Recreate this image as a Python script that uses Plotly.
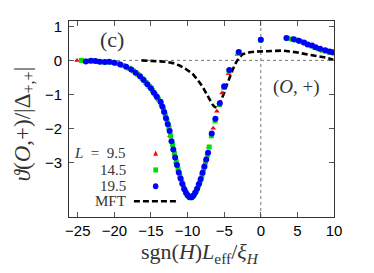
import plotly.graph_objects as go

# ---- data ----
x_L95 = [-25.1, -23.5, -21.9, -20.3, -18.8, -17.4, -16.2, -15.1, -14.1, -13.2, -12.4, -11.6,
         -10.8, -10.0, -9.2, -8.4, -7.7, -7.1, -6.5, -6.0, -5.3, -4.4, -3.2,
         3.6, 5.0, 6.5, 8.0, 9.6]
y_L95 = [0.0, -0.02, -0.04, -0.06, -0.15, -0.31, -0.53, -0.80, -1.12, -1.52, -2.22, -3.00,
         -3.62, -3.97, -3.98, -3.62, -3.12, -2.55, -2.00, -1.50, -0.96, -0.39, 0.18,
         0.64, 0.58, 0.45, 0.32, 0.22]

x_L145 = [-24.5, -23.7, -23.0, -22.3, -21.6, -21.0, -20.3, -19.6, -18.8, -18.0, -17.4, -16.8,
          -16.2, -15.7, -15.25, -14.8, -14.4, -14.0, -13.6, -13.3, -13.05, -12.8, -12.55,
          -12.3, -12.05, -11.8, -11.55, -11.3, -11.05, -10.8, -10.55, -10.3, -10.05, -9.8,
          -9.55, -9.3, -9.05, -8.8, -8.55, -8.3, -8.05, -7.8, -7.55, -7.3, -7.05, -6.75,
          -6.25, -5.65, -5.05, -4.35, -3.1, 0.0,
          3.6, 4.2, 4.8, 5.4, 5.9, 6.4, 6.9, 7.4, 7.9, 8.4, 8.9, 9.4, 10.0]
y_L145 = [0.0, -0.02, -0.01, -0.03, -0.05, -0.05, -0.06, -0.09, -0.15, -0.23, -0.31, -0.41,
          -0.53, -0.65, -0.76, -0.89, -1.01, -1.14, -1.28, -1.44, -1.61, -1.79, -1.98,
          -2.22, -2.48, -2.74, -2.98, -3.20, -3.41, -3.58, -3.74, -3.86, -3.96, -4.02,
          -4.04, -4.01, -3.93, -3.83, -3.70, -3.55, -3.38, -3.19, -2.99, -2.79, -2.55, -2.22,
          -1.78, -1.30, -0.80, -0.32, 0.21, 0.60,
          0.65, 0.63, 0.60, 0.56, 0.52, 0.47, 0.43, 0.38, 0.34, 0.30, 0.27, 0.24, 0.22]

x_L195 = [-23.9, -23.2, -22.6, -22.0, -21.3, -20.7, -20.0, -19.2, -18.4, -17.7, -17.1, -16.5,
          -16.0, -15.5, -15.0, -14.6, -14.2, -13.7, -13.45, -13.2, -12.95, -12.7, -12.45,
          -12.2, -11.95, -11.7, -11.45, -11.2, -10.95, -10.7, -10.45, -10.2, -9.95, -9.7,
          -9.45, -9.2, -8.95, -8.7, -8.45, -8.2, -7.95, -7.7, -7.45, -7.2,
          -6.7, -6.2, -5.6, -5.0, -4.3, -3.0, 0.0,
          3.5, 4.5, 5.2, 5.9, 6.4, 7.0, 7.5, 8.1, 8.8, 9.4, 9.8]
y_L195 = [-0.03, -0.01, -0.02, -0.04, -0.05, -0.04, -0.07, -0.12, -0.19, -0.27, -0.36, -0.47,
          -0.58, -0.70, -0.82, -0.95, -1.07, -1.22, -1.36, -1.52, -1.70, -1.88, -2.08,
          -2.38, -2.62, -2.86, -3.08, -3.30, -3.48, -3.64, -3.79, -3.90, -3.98, -4.03,
          -4.03, -3.98, -3.89, -3.78, -3.64, -3.49, -3.31, -3.12, -2.92, -2.72,
          -2.15, -1.72, -1.26, -0.76, -0.28, 0.25, 0.61,
          0.66, 0.62, 0.58, 0.53, 0.47, 0.44, 0.39, 0.34, 0.30, 0.26, 0.24]

x_mft = [-16.3, -15.0, -14.0, -13.0, -12.0, -11.1, -10.2, -9.3, -8.6, -7.9, -7.4, -7.0,
         -6.6, -6.3, -6.0, -5.7, -5.4, -5.0, -4.6, -4.2, -3.8, -3.35, -2.9, -2.5, -2.0,
         -1.5, -0.6, 0.0, 1.0, 2.0, 3.0, 4.0, 4.8, 5.5, 6.3, 7.1, 8.0, 8.9, 9.9]
y_mft = [0.0, -0.01, -0.02, -0.04, -0.08, -0.15, -0.26, -0.40, -0.58, -0.79, -0.99, -1.16,
         -1.30, -1.37, -1.39, -1.32, -1.18, -0.95, -0.70, -0.47, -0.25, -0.05, 0.10, 0.18, 0.22,
         0.24, 0.26, 0.26, 0.27, 0.28, 0.29, 0.27, 0.24, 0.21, 0.18, 0.15, 0.11, 0.08, 0.02]

x_ticks = [-25, -20, -15, -10, -5, 0, 5, 10]
y_ticks = [1, 0, -1, -2, -3]

legend_labels = ["<i>L</i>\u2002=\u20029.5", "14.5", "19.5", "MFT"]

RED, GREEN, BLUE = "#ff0000", "#00dd00", "#0000ff"
SERIF = "Liberation Serif"
SANS = "Liberation Sans"
TXT = "#333333"

fig = go.Figure()
fig.add_trace(go.Scatter(x=x_mft, y=y_mft, mode="lines",
                         line=dict(color="black", width=2.6, dash="6px,3px")))
fig.add_trace(go.Scatter(x=x_L95, y=y_L95, mode="markers",
                         marker=dict(symbol="triangle-up", size=5, color=RED)))
fig.add_trace(go.Scatter(x=x_L145, y=y_L145, mode="markers",
                         marker=dict(symbol="square", size=5, color=GREEN)))
fig.add_trace(go.Scatter(x=x_L195, y=y_L195, mode="markers",
                         marker=dict(symbol="circle", size=6, color=BLUE)))

# dotted reference lines
fig.add_hline(y=0, line=dict(color="#777777", width=1, dash="dot"), layer="below")
fig.add_vline(x=0, line=dict(color="#777777", width=1, dash="dot"), layer="below")

# manual legend (text left of symbols, as in the reference)
leg_y = [0.326, 0.24, 0.157, 0.08]
for lab, yy in zip(legend_labels, leg_y):
    fig.add_annotation(text=lab, xref="paper", yref="paper", x=0.222, y=yy,
                       xanchor="right", yanchor="middle", showarrow=False,
                       font=dict(family=SERIF, size=15, color=TXT))
mx = 0.327
dx, dy = 0.009, 0.013
fig.add_shape(type="path", xref="paper", yref="paper",
              path=f"M {mx-dx} {leg_y[0]-dy} L {mx+dx} {leg_y[0]-dy} L {mx} {leg_y[0]+dy} Z",
              fillcolor=RED, line=dict(width=0))
fig.add_shape(type="rect", xref="paper", yref="paper",
              x0=mx-dx, x1=mx+dx, y0=leg_y[1]-dy, y1=leg_y[1]+dy,
              fillcolor=GREEN, line=dict(width=0))
fig.add_shape(type="circle", xref="paper", yref="paper",
              x0=mx-dx*1.15, x1=mx+dx*1.15, y0=leg_y[2]-dy*1.15, y1=leg_y[2]+dy*1.15,
              fillcolor=BLUE, line=dict(width=0))
fig.add_shape(type="line", xref="paper", yref="paper",
              x0=0.245, x1=0.41, y0=leg_y[3], y1=leg_y[3],
              line=dict(color="black", width=2.6, dash="6px,3px"))

fig.add_annotation(text="(c)", xref="paper", yref="paper", x=0.162, y=0.905,
                   xanchor="center", yanchor="middle",
                   showarrow=False, font=dict(family=SERIF, size=22, color=TXT))
fig.add_annotation(text="(<i>O</i>, +)", xref="paper", yref="paper", x=0.86, y=0.663,
                   xanchor="center", yanchor="middle",
                   showarrow=False, font=dict(family=SERIF, size=19, color=TXT))
# axis titles
fig.add_annotation(text="<i>ϑ</i>(<i>O</i>,+)/|Δ<sub>+,+</sub>|", xref="paper", yref="paper",
                   x=-0.172, y=0.475, xanchor="center", yanchor="middle", textangle=-90,
                   showarrow=False, font=dict(family=SERIF, size=23, color=TXT))
fig.add_annotation(text="sgn(<i>H</i>)<i>L</i><sub>eff</sub>/<i>ξ</i><sub><i>H</i></sub>",
                   xref="paper", yref="paper", x=0.494, y=-0.184,
                   xanchor="center", yanchor="middle",
                   showarrow=False, font=dict(family=SERIF, size=22, color=TXT))

axis_common = dict(showline=True, linecolor="#333333", linewidth=1, mirror="ticks",
                   ticks="inside", ticklen=5, tickcolor="#555555", showgrid=False,
                   zeroline=False, automargin=False,
                   tickfont=dict(family=SANS, size=15, color="black"))

fig.update_xaxes(range=[-26.2, 10], tickvals=x_ticks, **axis_common)
fig.update_yaxes(range=[-4.61, 1.16], tickvals=y_ticks, ticklabelstandoff=3,
                 **axis_common)

# the page body adds an 8 px offset, so the figure is 8 px smaller and margins shifted
fig.update_layout(width=366, height=265, showlegend=False,
                  margin=dict(l=61, r=40, t=13, b=56),
                  paper_bgcolor="white", plot_bgcolor="white")

fig.write_html("out.html")
